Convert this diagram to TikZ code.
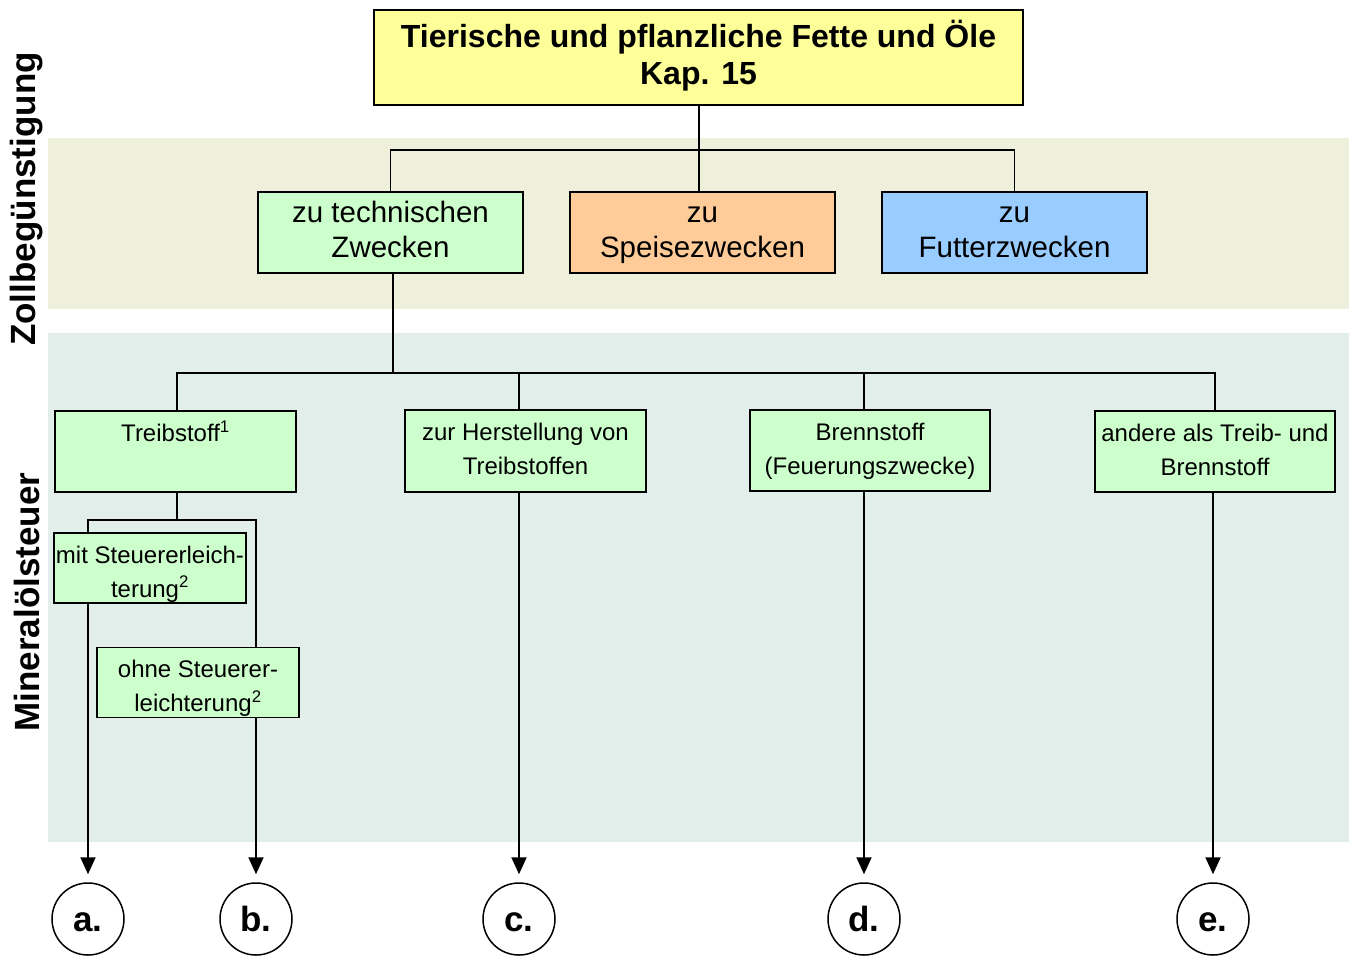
\documentclass[tikz,border=0pt]{standalone}
\usepackage{fontspec}
\setmainfont{Liberation Sans}
\usetikzlibrary{arrows.meta}
\definecolor{bandA}{HTML}{EFF0DB}
\definecolor{bandB}{HTML}{E2EEEA}
\definecolor{cyellow}{HTML}{FFFF99}
\definecolor{cgreen}{HTML}{CCFFCC}
\definecolor{corange}{HTML}{FFCC99}
\definecolor{cblue}{HTML}{99CCFF}
\newcommand{\topstrut}{\rule{0pt}{30pt}}
\newcommand{\botstrut}{\rule[-6pt]{0pt}{6pt}}
\tikzset{
  box/.style={draw=black, line width=1.8pt, inner sep=0pt, align=center},
  topbox/.style={box, fill=cyellow, font=\fontsize{32}{37}\selectfont\bfseries},
  midbox/.style={box, minimum width=265, minimum height=81, font=\fontsize{29.5}{35}\selectfont},
  lowbox/.style={box, fill=cgreen, font=\fontsize{24}{34}\selectfont},
  endc/.style={circle, draw=black, line width=1.5pt, minimum size=72, inner sep=0pt, text height=25pt, text depth=0pt, font=\fontsize{35}{40}\selectfont\bfseries},
  conn/.style={draw=black, line width=1.6pt},
  arr/.style={conn, line width=2pt, -{Triangle[width=15pt,length=17pt]}, shorten >=8pt},
  side/.style={rotate=90, font=\fontsize{35}{40}\selectfont\bfseries}
}
\begin{document}
\begin{tikzpicture}[x=1pt, y=-1pt]
\useasboundingbox (0,0) rectangle (1352,956);
% bands
\fill[bandA] (48,138) rectangle (1349,309);
\fill[bandB] (48,333) rectangle (1349,842);
% side labels
\node[side] (lz) at (27,199) {Zollbegünstigung};
\node[side] (lm) at (27,602) {Mineralölsteuer};
% top
\node[topbox, minimum width=649, minimum height=95] (top) at (698.5,57.5) {\strut Tierische und pflanzliche Fette und Öle\\\strut Kap. 15};
% middle
\node[midbox, fill=cgreen] (m1) at (390.5,232.5) {\strut zu technischen\\\strut Zwecken};
\node[midbox, fill=corange] (m2) at (702.5,232.5) {\strut zu\\\strut Speisezwecken};
\node[midbox, fill=cblue] (m3) at (1014.5,232.5) {\strut zu\\\strut Futterzwecken};
% lower
\node[lowbox, minimum width=241, minimum height=81] (l1) at (175.5,451.5) {\strut Treibstoff\textsuperscript{1}\\\strut};
\node[lowbox, minimum width=241, minimum height=82] (l2) at (525.5,451) {\strut zur Herstellung von\\\strut Treibstoffen};
\node[lowbox, minimum width=240, minimum height=81] (l3) at (870,450.5) {\strut Brennstoff\\\strut (Feuerungszwecke)};
\node[lowbox, minimum width=240, minimum height=81] (l4) at (1215,451.5) {\strut andere als Treib- und\\\strut Brennstoff};
% sub boxes
\node[lowbox, minimum width=192, minimum height=70] (s1) at (150,568) {\topstrut mit Steuererleich-\\terung\textsuperscript{2}\botstrut};
\node[lowbox, minimum width=202, minimum height=69] (s2) at (198,682.5) {\topstrut ohne Steuerer-\\leichterung\textsuperscript{2}\botstrut};
% end circles
\node[endc] (ca) at (88,919) {a.};
\node[endc] (cb) at (256,919) {b.};
\node[endc] (cc) at (519,919) {c.};
\node[endc] (cd) at (864,919) {d.};
\node[endc] (ce) at (1213,919) {e.};
% junction coordinates
\coordinate (j1) at (699,150);
\coordinate (j2) at (393,373);
\coordinate (j3) at (177,520);
% top connectors
\draw[conn] (top.south -| j1) -- (j1 |- m2.north);
\draw[conn] (m1.north) |- (j1) -| (m3.north);
% second level
\draw[conn] (m1.south -| j2) -- (j2);
\draw[conn] (j3 |- l1.north) |- (j2) -| (l4.north);
\draw[conn] (cc |- j2) -- (cc |- l2.north);
\draw[conn] (cd |- j2) -- (cd |- l3.north);
% Treibstoff branch
\draw[conn] (j3 |- l1.south) -- (j3);
\draw[conn] (ca |- s1.north) |- (j3) -| (cb |- s2.north);
% arrows
\draw[arr] (ca |- s1.south) -- (ca.north);
\draw[arr] (cb |- s2.south) -- (cb.north);
\draw[arr] (cc |- l2.south) -- (cc.north);
\draw[arr] (cd |- l3.south) -- (cd.north);
\draw[arr] (ce |- l4.south) -- (ce.north);
\end{tikzpicture}
\end{document}
